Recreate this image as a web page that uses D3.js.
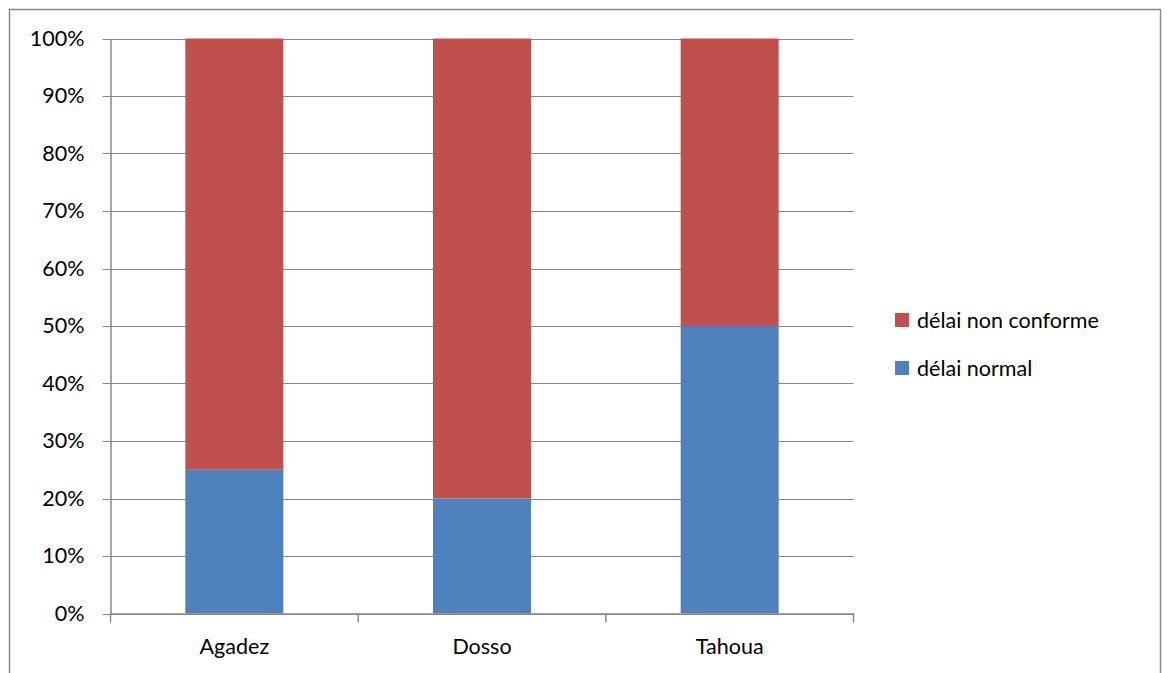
<!DOCTYPE html>
<html>
<head>
<meta charset="utf-8">
<script src="https://cdn.jsdelivr.net/npm/d3@7"></script>
<style>
  body { margin: 0; background: #fff; }
  text { font-family: Lato, "Open Sans", sans-serif; fill: #000; }
</style>
</head>
<body>
<svg id="chart"></svg>
<script>
// data
const categories = ['Agadez', 'Dosso', 'Tahoua'];
const normal = [0.25, 0.20, 0.50];
const nonConforme = [0.75, 0.80, 0.50];
const seriesNames = ['délai non conforme', 'délai normal'];
const yTicks = [0, 0.1, 0.2, 0.3, 0.4, 0.5, 0.6, 0.7, 0.8, 0.9, 1.0];

const W = 1167, H = 673;
const colors = {normal: '#4f81bd', non: '#c0504d'};
const fontSize = '21.5px';

const svg = d3.select('#chart').attr('width', W).attr('height', H);

// outer frame
svg.append('rect')
  .attr('x', 9.5).attr('y', 9.5)
  .attr('width', 1151).attr('height', 700)
  .attr('fill', 'none').attr('stroke', '#888').attr('stroke-width', 1.5);

const x0 = 110.5, x1 = 853.5;
const y0 = 613.5, y1 = 38.5;

const xScale = d3.scaleBand().domain(categories).range([x0, x1]).paddingInner(0).paddingOuter(0);
const yScale = d3.scaleLinear().domain([0, 1]).range([y0, y1]);

// grid lines
svg.append('g').selectAll('line')
  .data(yTicks)
  .join('line')
  .attr('x1', x0 - 8).attr('x2', x1)
  .attr('y1', d => Math.round(yScale(d)) + 0.5)
  .attr('y2', d => Math.round(yScale(d)) + 0.5)
  .attr('stroke', '#888').attr('stroke-width', 1.2);

// bars
const barW = 98;
const data = categories.map((c, i) => ({key: c, normal: normal[i], non: nonConforme[i]}));
const g = svg.append('g');
g.selectAll('.bar-normal')
  .data(data)
  .join('rect')
  .attr('class', 'bar-normal')
  .attr('x', d => xScale(d.key) + (xScale.bandwidth() - barW) / 2)
  .attr('width', barW)
  .attr('y', d => yScale(d.normal))
  .attr('height', d => yScale(0) - yScale(d.normal))
  .attr('fill', colors.normal);
g.selectAll('.bar-non')
  .data(data)
  .join('rect')
  .attr('class', 'bar-non')
  .attr('x', d => xScale(d.key) + (xScale.bandwidth() - barW) / 2)
  .attr('width', barW)
  .attr('y', d => yScale(d.normal + d.non))
  .attr('height', d => yScale(d.normal) - yScale(d.normal + d.non))
  .attr('fill', colors.non);

// y axis
const yAxis = d3.axisLeft(yScale).tickValues(yTicks).tickFormat(d3.format('.0%')).tickSize(0).tickPadding(26);
const yAxisG = svg.append('g').attr('transform', `translate(${x0},0)`).call(yAxis);
yAxisG.select('.domain').attr('stroke', '#888').attr('stroke-width', 1.5);
yAxisG.selectAll('text').style('font-size', fontSize).attr('fill', '#000');

// x axis
const xAxis = d3.axisBottom(xScale).tickSize(0).tickPadding(25);
const xAxisG = svg.append('g').attr('transform', `translate(0,${y0})`).call(xAxis);
xAxisG.select('.domain').attr('stroke', '#888').attr('stroke-width', 1.5);
xAxisG.selectAll('text').style('font-size', fontSize).attr('fill', '#000');
// category boundary ticks
const bounds = categories.map(c => xScale(c)).concat([x1]);
xAxisG.selectAll('.bound')
  .data(bounds)
  .join('line')
  .attr('class', 'bound')
  .attr('x1', d => d).attr('x2', d => d)
  .attr('y1', 0).attr('y2', 9)
  .attr('stroke', '#888').attr('stroke-width', 1.5);

// legend
const legendItems = [
  {name: seriesNames[0], color: colors.non},
  {name: seriesNames[1], color: colors.normal}
];
const legend = svg.append('g').attr('transform', 'translate(895,313)');
const li = legend.selectAll('g')
  .data(legendItems)
  .join('g')
  .attr('transform', (d, i) => `translate(0,${i * 48})`);
li.append('rect').attr('width', 14).attr('height', 14).attr('fill', d => d.color);
li.append('text')
  .attr('x', 22).attr('y', 7).attr('dy', '0.35em')
  .style('font-size', fontSize)
  .text(d => d.name);
</script>
</body>
</html>
